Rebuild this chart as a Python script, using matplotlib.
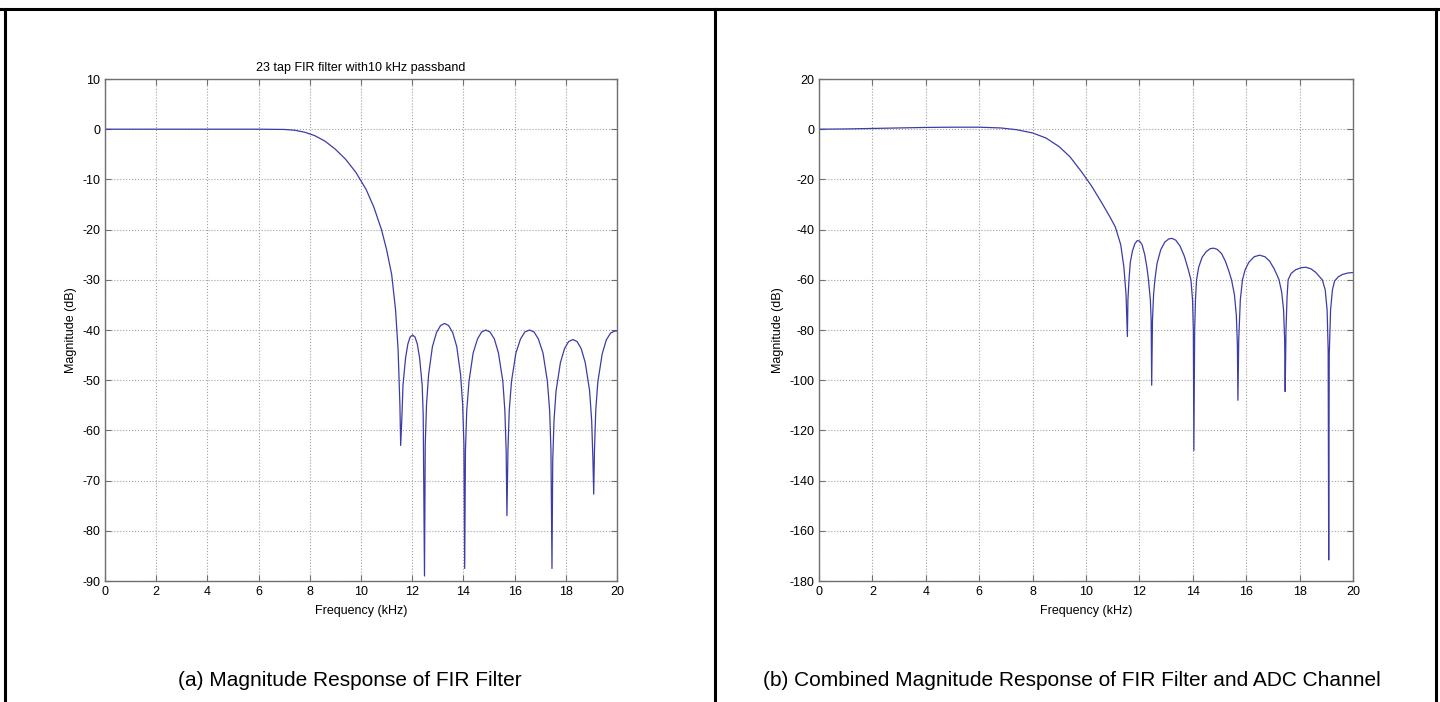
import matplotlib
matplotlib.use("Agg")
import matplotlib.pyplot as plt
from matplotlib.lines import Line2D

plt.rcParams['font.family'] = ['Liberation Sans', 'DejaVu Sans']
plt.rcParams['axes.unicode_minus'] = False

# ---- (a) 23 tap FIR filter ----
freq_a = [0, 1, 2, 3, 4, 5, 6, 7, 7.4, 7.8, 8.2, 8.6, 9.0, 9.4, 9.8, 10.2, 10.5, 10.8,
          11.0, 11.2, 11.35, 11.45, 11.52, 11.55,
          11.60, 11.64, 11.74, 11.83, 11.92, 12.015, 12.11, 12.20, 12.29, 12.39, 12.43, 12.48,
          12.51, 12.56, 12.64, 12.79, 12.95, 13.11, 13.265, 13.42, 13.58, 13.74, 13.89,
          13.97, 14.02, 14.05,
          14.08, 14.13, 14.22, 14.38, 14.55, 14.71, 14.875, 15.04, 15.21, 15.37, 15.54,
          15.62, 15.67, 15.70,
          15.74, 15.79, 15.88, 16.05, 16.23, 16.40, 16.58, 16.76, 16.93, 17.11, 17.28,
          17.37, 17.42, 17.46,
          17.49, 17.54, 17.62, 17.79, 17.95, 18.11, 18.275, 18.44, 18.60, 18.76, 18.93,
          19.01, 19.06, 19.09,
          19.12, 19.17, 19.25, 19.42, 19.58, 19.75, 19.92, 20.0]
mag_a = [0, 0, 0, 0, 0, 0, 0, -0.05, -0.2, -0.6, -1.3, -2.4, -4.0, -6.0, -8.6, -12,
         -15.5, -20, -24, -29, -36, -44, -55, -63,
         -57, -51, -45.6, -42.8, -41.4, -41, -41.4, -42.8, -45.6, -51, -57, -89,
         -62.7, -54.8, -48.9, -43.3, -40.5, -39.1, -38.7, -39.1, -40.5, -43.3, -48.9,
         -54.8, -62.7, -87.5,
         -64, -56.1, -50.2, -44.6, -41.8, -40.4, -40, -40.4, -41.8, -44.6, -50.2,
         -56.1, -64, -77,
         -64, -56.1, -50.2, -44.6, -41.8, -40.4, -40, -40.4, -41.8, -44.6, -50.2,
         -56.1, -64, -87.5,
         -65.9, -58, -52.1, -46.5, -43.7, -42.3, -41.9, -42.3, -43.7, -46.5, -52.1,
         -58, -65.9, -72.7,
         -64, -56, -50.4, -44.8, -42, -40.6, -40.2, -40.2]

# ---- (b) FIR filter + ADC channel ----
freq_b = [0, 1, 2, 3, 4, 5, 6, 6.8, 7.4, 8.0, 8.5, 9.0, 9.4, 9.8, 10.2, 10.6, 10.9,
          11.1, 11.3, 11.42, 11.5, 11.55,
          11.57, 11.61, 11.66, 11.74, 11.83, 11.92, 12.0, 12.1, 12.2, 12.28, 12.34,
          12.41, 12.44, 12.46,
          12.49, 12.53, 12.58, 12.66, 12.8, 12.95, 13.1, 13.22, 13.36, 13.52, 13.68,
          13.82, 13.93, 13.99, 14.02, 14.04,
          14.07, 14.1, 14.14, 14.22, 14.35, 14.5, 14.65, 14.78, 14.92, 15.08, 15.22,
          15.35, 15.45, 15.56, 15.63, 15.67, 15.69,
          15.72, 15.78, 15.86, 15.96, 16.1, 16.3, 16.5, 16.7, 16.88, 17.04, 17.15,
          17.23, 17.33, 17.4, 17.44, 17.46,
          17.49, 17.53, 17.57, 17.68, 17.85, 18.05, 18.23, 18.42, 18.6, 18.75, 18.85,
          18.96, 19.03, 19.07, 19.09,
          19.11, 19.16, 19.23, 19.31, 19.45, 19.6, 19.8, 20.0]
mag_b = [0, 0.1, 0.3, 0.5, 0.7, 0.8, 0.8, 0.5, -0.2, -1.5, -3.5, -7, -11, -16.5,
         -22.5, -29.5, -35, -39, -46, -55, -66, -82.6,
         -68, -60, -53, -48.5, -45.6, -44.4, -44.5, -46, -50, -55, -60,
         -68, -76, -102,
         -76, -66, -60, -53.5, -48, -45, -43.7, -43.5, -44.2, -46.5, -50.5,
         -55.5, -60, -68, -80, -128,
         -80, -68, -60, -55, -51, -48.8, -47.6, -47.4, -47.9, -49.6, -52.6,
         -56.5, -60, -66, -74, -86, -108,
         -84, -68, -60, -56, -53, -50.8, -50.2, -50.8, -52.6, -55.5, -58,
         -60, -65, -72, -84, -104.5,
         -80, -67, -60, -57.5, -56, -55.2, -55, -55.6, -57, -58.8, -60,
         -64, -72, -88, -171.6,
         -90, -72, -64, -60.5, -58.8, -57.9, -57.3, -57.1]

line_color = '#3c3ca8'
frame_color = '#707070'

fig = plt.figure(figsize=(14.4, 7.02), dpi=100)


def setup(ax, ylim, yticks):
    ax.set_xlim(0, 20)
    ax.set_ylim(*ylim)
    ax.set_xticks(range(0, 21, 2))
    ax.set_yticks(yticks)
    ax.grid(True, linestyle=':', color='#a0a0a0', linewidth=0.8)
    ax.tick_params(direction='in', length=4, colors=frame_color, labelcolor='black',
                   labelsize=9, top=True, right=True)
    for sp in ax.spines.values():
        sp.set_color(frame_color)
        sp.set_linewidth(1.0)
    ax.set_xlabel('Frequency (kHz)', fontsize=9, labelpad=5)
    ax.set_ylabel('Magnitude (dB)', fontsize=9, labelpad=4)


# ================== (a) =========================
ax_a = fig.add_axes([105 / 1440, 121 / 702, 512 / 1440, 502 / 702])
ax_a.plot(freq_a, mag_a, color=line_color, linewidth=0.9)
setup(ax_a, (-90, 10), range(-90, 11, 10))
ax_a.set_title('23 tap FIR filter with10 kHz passband', fontsize=9, pad=6)

# ================== (b) =========================
ax_b = fig.add_axes([819 / 1440, 121 / 702, 534 / 1440, 502 / 702])
ax_b.plot(freq_b, mag_b, color=line_color, linewidth=0.9)
setup(ax_b, (-180, 20), range(-180, 21, 20))

# captions
fig.text(350 / 1440, 1 - 681 / 702, '(a) Magnitude Response of FIR Filter',
         ha='center', va='center', fontsize=15)
fig.text(1072 / 1440, 1 - 681 / 702,
         '(b) Combined Magnitude Response of FIR Filter and ADC Channel',
         ha='center', va='center', fontsize=15)

# table borders
for xs, ys in [((0, 1), (1 - 9 / 702, 1 - 9 / 702)),
               ((5 / 1440, 5 / 1440), (0, 1 - 9 / 702)),
               ((715 / 1440, 715 / 1440), (0, 1 - 9 / 702)),
               ((1436 / 1440, 1436 / 1440), (0, 1 - 9 / 702))]:
    fig.add_artist(Line2D(xs, ys, color='black', linewidth=2.2))

fig.savefig('out.png', dpi=100)
